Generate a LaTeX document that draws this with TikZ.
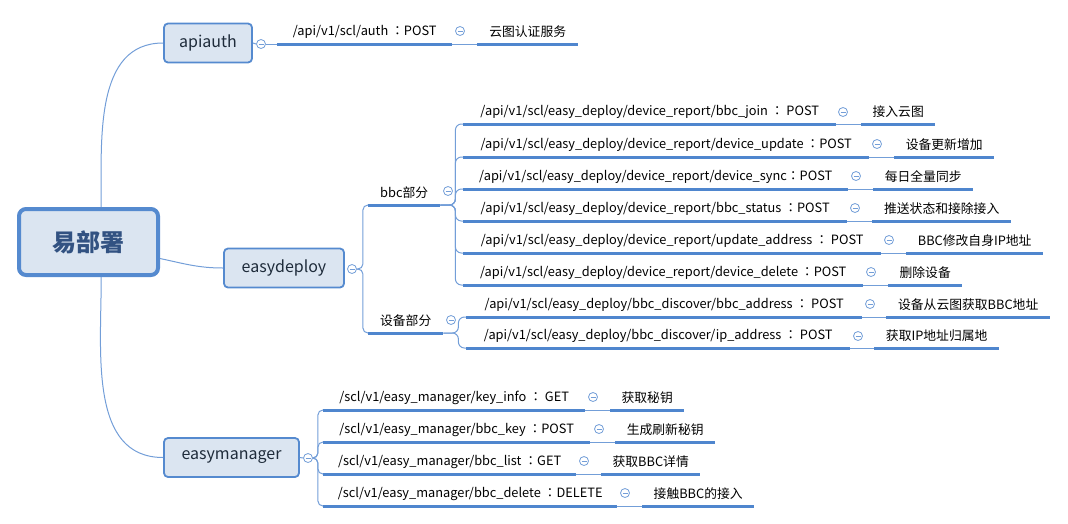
\documentclass[tikz,border=0pt]{standalone}
\usepackage{fontspec}
\setmainfont{Noto Sans CJK SC}
\newfontfamily\colonfont{Noto Sans CJK TC}
\newcommand{\cln}{{\colonfont ：}}
\usetikzlibrary{positioning}
\definecolor{boxfill}{RGB}{219,229,241}
\definecolor{boxline}{RGB}{85,138,207}
\definecolor{ulblue}{RGB}{79,134,206}
\definecolor{connblue}{RGB}{115,158,216}
\definecolor{rootink}{RGB}{50,82,130}
\definecolor{boxink}{RGB}{30,43,58}

\begin{document}
\begin{tikzpicture}[x=1pt, y=-1pt,
    root/.style={draw=boxline, line width=4pt, fill=boxfill, rounded corners=7pt, minimum width=139pt, minimum height=66pt, font=\fontsize{24}{28}\selectfont\bfseries, text=rootink},
    mainbox/.style={draw=boxline, line width=1.8pt, fill=boxfill, rounded corners=4pt, minimum height=39pt, font=\fontsize{16}{19}\selectfont, text=boxink},
    topic/.style={anchor=south west, inner sep=0pt, minimum height=24pt, minimum width=#1, font=\fontsize{12.8}{15}\selectfont},
    uline/.style={draw=ulblue, line width=3pt},
    conn/.style={draw=connblue, line width=1pt},
    fold/.style={circle, draw=connblue, fill=white, line width=0.8pt, minimum size=9pt, inner sep=0pt,
        path picture={\draw[connblue, line width=0.8pt] ([xshift=-2.5pt]path picture bounding box.center) -- ([xshift=2.5pt]path picture bounding box.center);}}]
    \useasboundingbox (0,0) rectangle (1068,523);

    \node[root] (root) at (88.5,242) {易部署};
    \node[mainbox, minimum width=88pt] (apiauth) at (208,43) {apiauth};
    \node[mainbox, minimum width=120pt] (easydeploy) at (284,268) {easydeploy};
    \node[mainbox, minimum width=135pt] (easymanager) at (231.5,457.5) {easymanager};
    \node[fold] (apiauthfold) at (261,44) {};
    \node[fold] (deployfold) at (352,269) {};
    \node[fold] (managerfold) at (308,458) {};

    \node[topic=175pt] (auth) at (277,44) {/api/v1/scl/auth \cln POST};
    \node[topic=101pt] (authdesc) at (477,44) {云图认证服务};
    \node[fold] at (460,31) {};

    \node[topic=72pt] (bbc) at (368,205) {bbc部分};
    \node[fold] (bbcfold) at (448,191) {};
    \node[topic=75pt] (dev) at (368,333) {设备部分};
    \node[fold] (devfold) at (451,320) {};

    \node[topic=373pt] (join) at (463,124) {/api/v1/scl/easy\_deploy/device\_report/bbc\_join \cln\ POST};
    \node[topic=74pt] (joindesc) at (861,124) {接入云图};
    \node[fold] at (843,112) {};
    \node[topic=406pt] (update) at (463,157) {/api/v1/scl/easy\_deploy/device\_report/device\_update \cln POST};
    \node[topic=100pt] (updatedesc) at (894,157) {设备更新增加};
    \node[fold] at (877,144) {};
    \node[topic=385pt] (sync) at (463,189) {/api/v1/scl/easy\_deploy/device\_report/device\_sync\cln POST};
    \node[topic=100pt] (syncdesc) at (873,189) {每日全量同步};
    \node[fold] at (856,176) {};
    \node[topic=384pt] (status) at (463,221) {/api/v1/scl/easy\_deploy/device\_report/bbc\_status \cln POST};
    \node[topic=139pt] (statusdesc) at (872,221) {推送状态和接除接入};
    \node[fold] at (855,208) {};
    \node[topic=418pt] (addr) at (463,253) {/api/v1/scl/easy\_deploy/device\_report/update\_address \cln\ POST};
    \node[topic=137pt] (addrdesc) at (906,253) {BBC修改自身IP地址};
    \node[fold] at (889,240) {};
    \node[topic=400pt] (del) at (463,285) {/api/v1/scl/easy\_deploy/device\_report/device\_delete \cln POST};
    \node[topic=74pt] (deldesc) at (888,285) {删除设备};
    \node[fold] at (871,272) {};

    \node[topic=396pt] (discaddr) at (466,317) {/api/v1/scl/easy\_deploy/bbc\_discover/bbc\_address \cln\ POST};
    \node[topic=164pt] (discaddrdesc) at (886,317) {设备从云图获取BBC地址};
    \node[fold] at (870,304) {};
    \node[topic=384pt] (discip) at (466,348) {/api/v1/scl/easy\_deploy/bbc\_discover/ip\_address \cln\ POST};
    \node[topic=125pt] (discipdesc) at (874,348) {获取IP地址归属地};
    \node[fold] at (858,336) {};

    \node[topic=262pt] (keyinfo) at (323,410) {/scl/v1/easy\_manager/key\_info \cln\ GET};
    \node[topic=74pt] (keyinfodesc) at (610,410) {获取秘钥};
    \node[fold] at (593,397) {};
    \node[topic=267pt] (bbckey) at (323,442) {/scl/v1/easy\_manager/bbc\_key \cln POST};
    \node[topic=100pt] (bbckeydesc) at (615,442) {生成刷新秘钥};
    \node[fold] at (599,429) {};
    \node[topic=253pt] (bbclist) at (323,474) {/scl/v1/easy\_manager/bbc\_list \cln GET};
    \node[topic=99pt] (bbclistdesc) at (601,474) {获取BBC详情};
    \node[fold] at (584,461) {};
    \node[topic=294pt] (bbcdel) at (323,506) {/scl/v1/easy\_manager/bbc\_delete \cln DELETE};
    \node[topic=112pt] (bbcdeldesc) at (642,506) {接触BBC的接入};
    \node[fold] at (625,493) {};

    \draw[conn] (root.70) to[out=90, in=180] (apiauth.west);
    \draw[conn] (root.-13) to[out=-12, in=180] (easydeploy.west);
    \draw[conn] (root.-70) to[out=-90, in=180] (easymanager.west);

    \draw[conn] (apiauth.east) -- (apiauthfold.west);
    \draw[conn] (apiauthfold.east) -- (auth.south west);
    \draw[conn] (easymanager.east) -- (managerfold.west);

    \foreach \n in {bbc, dev}
        \draw[conn, rounded corners=5pt] (deployfold.east) -- ++(6,0) |- (\n.south west);
    \foreach \n in {join, update, sync, status, addr, del}
        \draw[conn, rounded corners=6pt] (bbc.south east) -- ++(15,0) |- (\n.south west);
    \foreach \n in {discaddr, discip}
        \draw[conn, rounded corners=6pt] (dev.south east) -- ++(15,0) |- (\n.south west);
    \foreach \n in {keyinfo, bbckey, bbclist, bbcdel}
        \draw[conn, rounded corners=5pt] (managerfold.east) -- ++(5,0) |- (\n.south west);

    \foreach \a/\b in {auth/authdesc, join/joindesc, update/updatedesc, sync/syncdesc, status/statusdesc, addr/addrdesc, del/deldesc, discaddr/discaddrdesc, discip/discipdesc, keyinfo/keyinfodesc, bbckey/bbckeydesc, bbclist/bbclistdesc, bbcdel/bbcdeldesc}
        \draw[conn] (\a.south east) -- (\b.south west);

    \foreach \n in {auth, authdesc, bbc, dev, join, joindesc, update, updatedesc, sync, syncdesc, status, statusdesc, addr, addrdesc, del, deldesc, discaddr, discaddrdesc, discip, discipdesc, keyinfo, keyinfodesc, bbckey, bbckeydesc, bbclist, bbclistdesc, bbcdel, bbcdeldesc}
        \draw[uline] (\n.south west) -- (\n.south east);
\end{tikzpicture}
\end{document}
